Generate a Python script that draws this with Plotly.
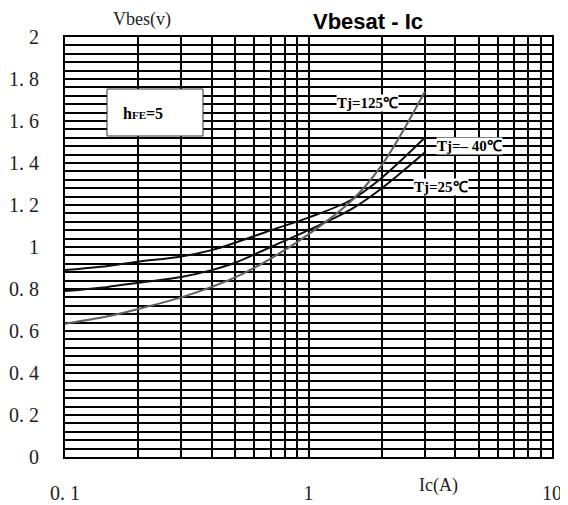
import plotly.graph_objects as go
import numpy as np

# Data
ic = [0.1, 0.15, 0.2, 0.3, 0.4, 0.5, 0.7, 1.0, 1.5, 2.0, 3.0]
v_m40 = [0.89, 0.91, 0.93, 0.955, 0.985, 1.02, 1.08, 1.14, 1.225, 1.33, 1.52]
v_25 = [0.79, 0.81, 0.83, 0.857, 0.89, 0.925, 1.0, 1.08, 1.18, 1.28, 1.45]
v_125 = [0.635, 0.67, 0.705, 0.76, 0.81, 0.855, 0.945, 1.06, 1.22, 1.39, 1.738]

x_ticks = [0.1, 1, 10]
x_ticktext = ["0. 1", "1", "10"]
y_ticks = [0, 0.2, 0.4, 0.6, 0.8, 1, 1.2, 1.4, 1.6, 1.8, 2]
y_ticktext = ["0", "0. 2", "0. 4", "0. 6", "0. 8", "1", "1. 2", "1. 4", "1. 6", "1. 8", "2"]
x_grid = [m * 10.0 ** e for e in (-1, 0) for m in range(2, 10)]
y_grid = [round(i * 0.04, 2) for i in range(51)]

fig = go.Figure()
fig.add_trace(go.Scatter(x=ic, y=v_m40, mode="lines", line=dict(color="#111", width=2, shape="spline"), name="Tj=-40"))
fig.add_trace(go.Scatter(x=ic, y=v_25, mode="lines", line=dict(color="#111", width=2, shape="spline"), name="Tj=25"))
fig.add_trace(go.Scatter(x=ic, y=v_125, mode="lines", line=dict(color="#606060", width=2, shape="spline"), name="Tj=125"))

serif = "Liberation Serif"
# page body has an 8px default margin, so the figure is 8px smaller
fig.update_layout(
    width=560, height=497,
    margin=dict(l=57, r=16, t=29, b=48, autoexpand=False),
    paper_bgcolor="white", plot_bgcolor="white",
    showlegend=False,
    xaxis=dict(type="log", range=[-1, 1], tickvals=x_ticks, ticktext=x_ticktext,
               showgrid=True, gridcolor="black", gridwidth=2, automargin=False,
               minor=dict(tickvals=x_grid, showgrid=True, gridcolor="black", gridwidth=2, ticks=""),
               showline=True, linecolor="black", linewidth=2, mirror=True,
               ticks="", ticklabelstandoff=17, zeroline=False,
               tickfont=dict(family=serif, size=20, color="#222")),
    yaxis=dict(range=[0, 2], tickvals=y_ticks, ticktext=y_ticktext,
               showgrid=True, gridcolor="black", gridwidth=2, automargin=False,
               minor=dict(tickvals=y_grid, showgrid=True, gridcolor="black", gridwidth=2, ticks=""),
               showline=True, linecolor="black", linewidth=2, mirror=True,
               ticks="", ticklabelstandoff=20, zeroline=False,
               tickfont=dict(family=serif, size=20, color="#222")),
)

# hFE box
fig.add_shape(type="rect", xref="paper", yref="paper",
              x0=(107 - 65) / 487, x1=(203 - 65) / 487,
              y0=(457 - 136) / 420, y1=(457 - 89) / 420,
              fillcolor="white", line=dict(color="#333", width=1), layer="above")
fig.add_annotation(xref="paper", yref="paper", x=(121 - 65) / 487, y=(457 - 113) / 420,
                   xanchor="left", yanchor="middle",
                   text="<b>h<span style='font-size:11px'>FE</span>=5</b>", showarrow=False,
                   font=dict(family=serif, size=16, color="black"))

# curve labels
lab_font = dict(family=serif, size=15, color="black")
fig.add_annotation(x=np.log10(1.75), y=1.685, text="<b>Tj=125℃</b>", showarrow=False,
                   bgcolor="white", font=lab_font, borderpad=0)
fig.add_annotation(x=np.log10(4.6), y=1.48, text="<b>Tj=– 40℃</b>", showarrow=False,
                   bgcolor="white", font=lab_font, borderpad=0)
fig.add_annotation(x=np.log10(3.5), y=1.285, text="<b>Tj=25℃</b>", showarrow=False,
                   bgcolor="white", font=lab_font, borderpad=0)

# title and axis titles
fig.add_annotation(xref="paper", yref="paper", x=(368 - 65) / 487, y=1.0, yshift=29,
                   yanchor="top", text="<b>Vbesat - Ic</b>", showarrow=False, borderpad=0,
                   font=dict(family="Liberation Sans", size=22, color="black"))
fig.add_annotation(xref="paper", yref="paper", x=(112 - 65) / 487, y=1.0, yshift=29,
                   yanchor="top", text="Vbes(v)", showarrow=False, borderpad=0,
                   font=dict(family=serif, size=18, color="#222"))
fig.add_annotation(xref="paper", yref="paper", x=(460 - 65) / 487, y=0, yshift=-28,
                   yanchor="middle", text="Ic(A)", showarrow=False,
                   font=dict(family=serif, size=18, color="#222"))

fig.write_html("out.html")
